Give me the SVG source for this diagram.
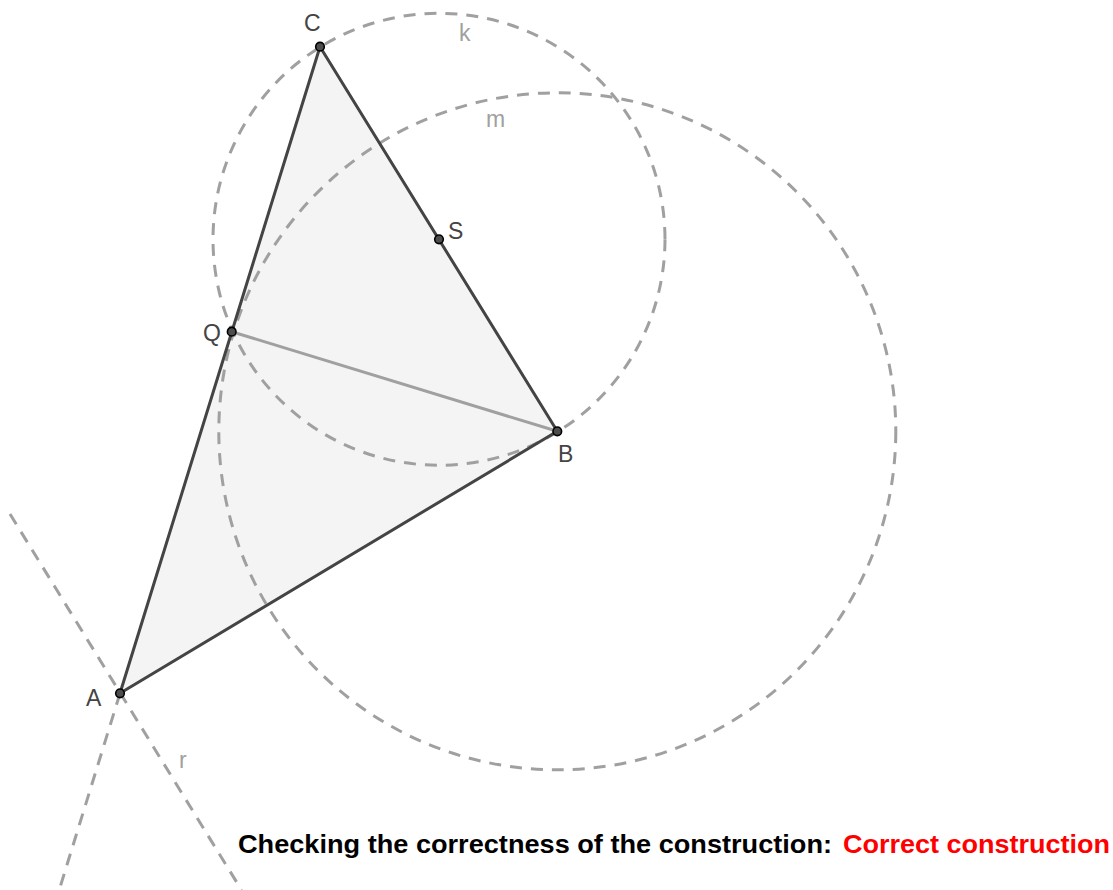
<svg xmlns="http://www.w3.org/2000/svg" width="1113" height="890" viewBox="0 0 1113 890">
<style>
.dash{fill:none;stroke:#a0a0a0;stroke-width:3;stroke-dasharray:12 9}
.seg{stroke:#444;stroke-width:3;stroke-linecap:round}
.pt{fill:#4d4d4d;stroke:#000;stroke-width:1.6}
.lbl{font-family:"Liberation Sans",Arial,sans-serif;font-size:23px;fill:#444}
.glbl{font-family:"Liberation Sans",Arial,sans-serif;font-size:23px;fill:#a0a0a0}
.msg{font-family:"Liberation Sans",Arial,sans-serif;font-size:25px;font-weight:bold}
</style>
<rect width="1113" height="890" fill="#fff"/>
<g id="triangle">
<polygon points="120,693.3 557.3,431.3 320,46.7" fill="#f4f4f4" stroke="none"/>
</g>
<g id="construction">
<circle id="k" class="dash" cx="439" cy="239.3" r="226"/>
<circle id="m" class="dash" cx="557.3" cy="431.3" r="338.5"/>
<line id="r" class="dash" x1="10" y1="514" x2="241.5" y2="890"/>
<line id="rayA" class="dash" x1="120" y1="693.3" x2="59.2" y2="890"/>
</g>
<g id="segments">
<line class="seg" x1="120" y1="693.3" x2="320" y2="46.7"/>
<line class="seg" x1="320" y1="46.7" x2="557.3" y2="431.3"/>
<line class="seg" x1="557.3" y1="431.3" x2="120" y2="693.3"/>
<line x1="231.7" y1="331.7" x2="557.3" y2="431.3" stroke="#a0a0a0" stroke-width="3" stroke-linecap="round"/>
</g>
<g id="C"><circle class="pt" cx="320" cy="46.7" r="4.3"/><text class="lbl" x="304" y="31">C</text></g>
<g id="S"><circle class="pt" cx="439" cy="239.3" r="4.3"/><text class="lbl" x="448" y="239">S</text></g>
<g id="Q"><circle class="pt" cx="231.7" cy="331.7" r="4.3"/><text class="lbl" x="203" y="341">Q</text></g>
<g id="B"><circle class="pt" cx="557.3" cy="431.3" r="4.3"/><text class="lbl" x="558" y="462">B</text></g>
<g id="A"><circle class="pt" cx="120" cy="693.3" r="4.3"/><text class="lbl" x="86" y="706">A</text></g>
<g id="labels">
<text class="glbl" x="459" y="41">k</text>
<text class="glbl" x="486" y="127">m</text>
<text class="glbl" x="179" y="768">r</text>
</g>
<g id="message">
<text class="msg" x="238" y="853" fill="#000" textLength="594" lengthAdjust="spacingAndGlyphs">Checking the correctness of the construction:</text>
<text class="msg" x="843" y="853" fill="#ff0000" textLength="267" lengthAdjust="spacingAndGlyphs">Correct construction</text>
</g>
</svg>
